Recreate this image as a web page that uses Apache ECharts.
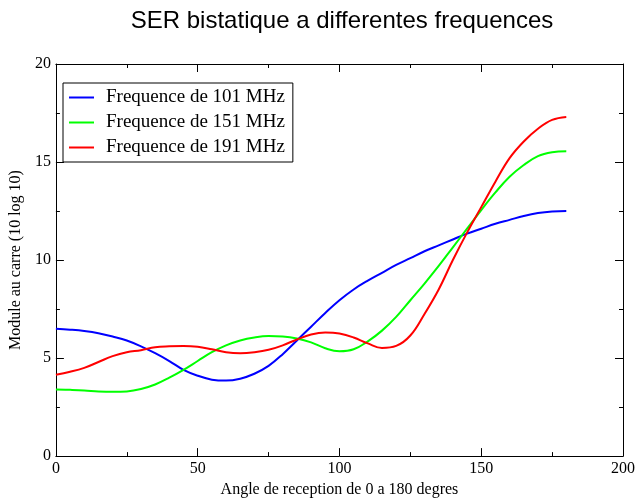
<!DOCTYPE html>
<html>
<head>
<meta charset="utf-8">
<script src="https://cdn.jsdelivr.net/npm/echarts@6/dist/echarts.min.js"></script>
<style>html,body{margin:0;padding:0;background:#fff;}#c{width:638px;height:503px;}</style>
</head>
<body>
<div id="c"></div>
<script>
const angles = [0,5,10,15,20,25,30,35,40,45,50,55,60,65,70,75,80,85,90,95,100,105,110,115,120,125,130,135,140,145,150,155,160,165,170,175,180];
const f101 = [6.5,6.45,6.38,6.27,6.1,5.9,5.6,5.25,4.85,4.4,4.1,3.9,3.85,3.95,4.2,4.6,5.2,5.9,6.6,7.3,7.95,8.5,8.95,9.35,9.75,10.1,10.45,10.75,11.05,11.35,11.6,11.85,12.05,12.25,12.4,12.48,12.5];
const f151 = [3.4,3.38,3.35,3.3,3.28,3.3,3.42,3.65,4.0,4.4,4.85,5.3,5.65,5.9,6.05,6.12,6.1,6.0,5.8,5.5,5.35,5.45,5.85,6.4,7.1,7.95,8.8,9.7,10.65,11.6,12.55,13.45,14.25,14.85,15.3,15.5,15.55];
const f191 = [4.15,4.3,4.5,4.8,5.1,5.3,5.4,5.55,5.6,5.62,5.58,5.45,5.3,5.25,5.3,5.42,5.65,5.95,6.2,6.3,6.25,6.05,5.75,5.52,5.62,6.15,7.25,8.5,10.0,11.4,12.7,14.0,15.2,16.05,16.7,17.15,17.3];
const seriesNames = ['Frequence de 101 MHz','Frequence de 151 MHz','Frequence de 191 MHz'];
const seriesColors = ['#0000ff','#00ff00','#ff0000'];
const titleText = 'SER bistatique a differentes frequences';
const xName = 'Angle de reception de 0 a 180 degres';
const yName = 'Module au carre (10 log 10)';

const serif = '"Liberation Serif","DejaVu Serif",serif';
const sans = '"Liberation Sans",Arial,sans-serif';
const pair = arr => angles.map((a,i)=>[a,arr[i]]);
const tickCommon = {show:true, inside:true, length:8, lineStyle:{color:'#000',width:1}};
const minorCommon = {show:true, splitNumber:2, length:4, lineStyle:{color:'#000',width:1}};
const lineCommon = {show:true, onZero:false, lineStyle:{color:'#000',width:1}};

const chart = echarts.init(document.getElementById('c'), null, {renderer:'canvas'});
chart.setOption({
  backgroundColor:'#fff',
  animation:false,
  title:{text:titleText, left:337, textAlign:'center', top:4, textStyle:{fontFamily:sans, fontSize:24, fontWeight:'normal', color:'#000'}},
  grid:{left:54, right:12, top:64, bottom:39, containLabel:false},
  legend:{
    orient:'vertical', left:63, top:83, padding:[5,8,5,6], itemGap:6,
    borderColor:'#000', borderWidth:1, backgroundColor:'#fff',
    icon:'rect', itemWidth:25, itemHeight:2,
    textStyle:{fontFamily:serif, fontSize:19, color:'#000', padding:[0,0,0,7], lineHeight:17},
    data:seriesNames
  },
  xAxis:[
    {type:'value', min:0, max:200, interval:50, position:'bottom',
     name:xName, nameLocation:'middle', nameGap:25,
     nameTextStyle:{fontFamily:serif, fontSize:16, color:'#000'},
     axisLine:lineCommon, axisTick:tickCommon, minorTick:minorCommon,
     axisLabel:{fontFamily:serif, fontSize:16, color:'#000', margin:5},
     splitLine:{show:false}},
    {type:'value', min:0, max:200, interval:50, position:'top',
     axisLine:lineCommon, axisTick:tickCommon, minorTick:minorCommon,
     axisLabel:{show:false}, splitLine:{show:false}}
  ],
  yAxis:[
    {type:'value', min:0, max:20, interval:5, position:'left',
     name:yName, nameLocation:'middle', nameGap:24, nameRotate:90,
     nameTextStyle:{fontFamily:serif, fontSize:16, color:'#000'},
     axisLine:lineCommon, axisTick:tickCommon, minorTick:minorCommon,
     axisLabel:{fontFamily:serif, fontSize:16, color:'#000', margin:5},
     splitLine:{show:false}},
    {type:'value', min:0, max:20, interval:5, position:'right',
     axisLine:lineCommon, axisTick:tickCommon, minorTick:minorCommon,
     axisLabel:{show:false}, splitLine:{show:false}}
  ],
  series:[f101,f151,f191].map((arr,i)=>({
    name:seriesNames[i], type:'line', data:pair(arr), smooth:0.4,
    symbol:'none', color:seriesColors[i], lineStyle:{width:2, color:seriesColors[i]},
    xAxisIndex:0, yAxisIndex:0
  }))
});
</script>
</body>
</html>
